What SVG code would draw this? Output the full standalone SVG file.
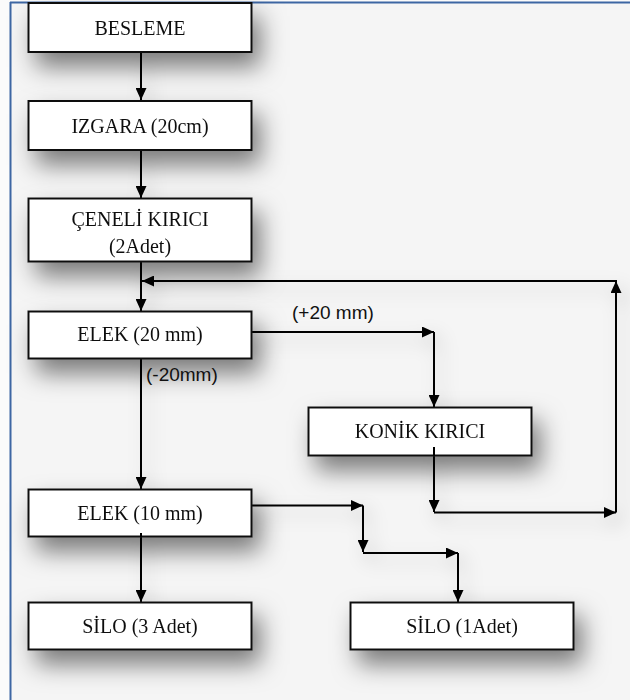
<svg xmlns="http://www.w3.org/2000/svg" width="630" height="700" viewBox="0 0 630 700">
<defs>
<style>
.box{fill:#fff;stroke:#111;stroke-width:2}
.lbl{font-family:"Liberation Serif","Times New Roman",serif;font-size:20px;fill:#111;text-anchor:middle}
.note{font-family:"Liberation Sans",Arial,sans-serif;font-size:19px;fill:#111}
.ln{fill:none;stroke:#000;stroke-width:2}
.arr{fill:none;stroke:#000;stroke-width:2;marker-end:url(#ah)}
</style>
<marker id="ah" viewBox="0 0 12 11" refX="12" refY="5.5" markerWidth="12" markerHeight="11" markerUnits="userSpaceOnUse" orient="auto">
<path d="M0,0 L12,5.5 L0,11 z" fill="#000"/>
</marker>
<filter id="sh" x="-40%" y="-80%" width="190%" height="300%">
<feDropShadow dx="8" dy="14" stdDeviation="12" flood-color="#000" flood-opacity="0.5"/>
</filter>
<filter id="shl" x="-20%" y="-20%" width="140%" height="140%">
<feDropShadow dx="6" dy="8" stdDeviation="9" flood-color="#000" flood-opacity="0.22"/>
</filter>
</defs>
<rect x="0" y="0" width="630" height="700" fill="#fbfbfb"/>
<rect x="11" y="3" width="619" height="697" fill="#f5f5f5"/>
<line x1="10.5" y1="2" x2="10.5" y2="700" stroke="#3d66a3" stroke-width="2"/>
<line x1="10" y1="2.5" x2="630" y2="2.5" stroke="#3d66a3" stroke-width="2"/>

<g id="connectors" filter="url(#shl)">
<line class="arr" x1="141" y1="52" x2="141" y2="100"/>
<line class="arr" x1="141" y1="150" x2="141" y2="198"/>
<line class="arr" x1="141" y1="262" x2="141" y2="311"/>
<polyline class="arr" points="252,332 434,332"/>
<line class="arr" x1="434" y1="332" x2="434" y2="407"/>
<line class="arr" x1="141" y1="359" x2="141" y2="489"/>
<line class="arr" x1="141" y1="535" x2="141" y2="602"/>
<line class="arr" x1="434" y1="447" x2="434" y2="512"/>
<line class="arr" x1="434" y1="512.5" x2="616" y2="512.5"/>
<line class="arr" x1="616" y1="512.5" x2="616" y2="281"/>
<line class="arr" x1="617" y1="281" x2="142" y2="281"/>
<line class="arr" x1="252" y1="505.5" x2="363" y2="505.5"/>
<line class="arr" x1="363" y1="505.5" x2="363" y2="552"/>
<line class="arr" x1="363" y1="553" x2="458" y2="553"/>
<line class="arr" x1="458" y1="553" x2="458" y2="602"/>
</g>

<g id="n-besleme" filter="url(#sh)">
<rect class="box" x="28.5" y="3" width="223" height="49"/>
<text class="lbl" x="140" y="35">BESLEME</text>
</g>
<g id="n-izgara" filter="url(#sh)">
<rect class="box" x="28.5" y="101" width="223" height="49"/>
<text class="lbl" x="140" y="133">IZGARA (20cm)</text>
</g>
<g id="n-ceneli" filter="url(#sh)">
<rect class="box" x="28.5" y="198.5" width="223" height="63"/>
<text class="lbl" x="140" y="226">ÇENELİ KIRICI</text>
<text class="lbl" x="140" y="253">(2Adet)</text>
</g>
<g id="n-elek20" filter="url(#sh)">
<rect class="box" x="28.5" y="311.5" width="223" height="47"/>
<text class="lbl" x="140" y="341">ELEK (20 mm)</text>
</g>
<g id="n-konik" filter="url(#sh)">
<rect class="box" x="308.5" y="407.5" width="223" height="48"/>
<text class="lbl" x="420" y="438">KONİK KIRICI</text>
</g>
<g id="n-elek10" filter="url(#sh)">
<rect class="box" x="28.5" y="489.5" width="223" height="47"/>
<text class="lbl" x="140" y="520">ELEK (10 mm)</text>
</g>
<g id="n-silo3" filter="url(#sh)">
<rect class="box" x="28.5" y="602.5" width="223" height="47"/>
<text class="lbl" x="140" y="633">SİLO (3 Adet)</text>
</g>
<g id="n-silo1" filter="url(#sh)">
<rect class="box" x="350.5" y="602.5" width="223" height="47"/>
<text class="lbl" x="462" y="633">SİLO (1Adet)</text>
</g>

<line class="ln" x1="434" y1="447" x2="434" y2="456"/>
<line class="ln" x1="141" y1="533" x2="141" y2="537"/>

<text class="note" x="292" y="319">(+20 mm)</text>
<text class="note" x="146" y="381">(-20mm)</text>
</svg>
